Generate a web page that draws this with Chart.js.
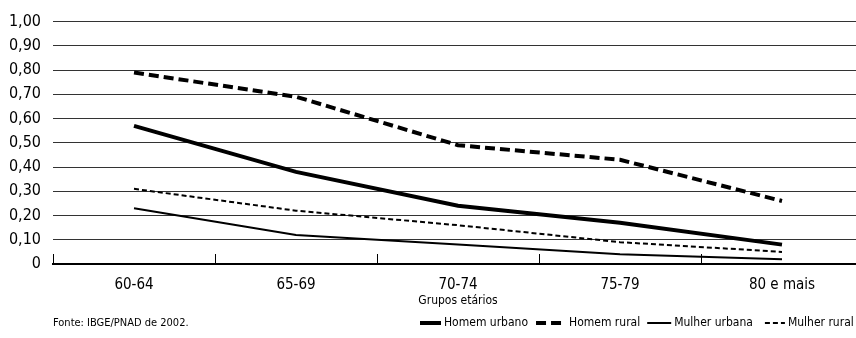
<!DOCTYPE html>
<html>
<head>
<meta charset="utf-8">
<script src="https://cdn.jsdelivr.net/npm/chart.js@4"></script>
<style>
    html, body { margin: 0; padding: 0; overflow: hidden; background: #fff; }
    #wrap { width: 866px; height: 338px; position: relative; }
</style>
</head>
<body>
<div id="wrap"><canvas id="chart"></canvas></div>
<script>
// Data
const ageGroups = ['60-64', '65-69', '70-74', '75-79', '80 e mais'];
const homemUrbano = [0.57, 0.38, 0.24, 0.17, 0.08];
const homemRural = [0.79, 0.69, 0.49, 0.43, 0.26];
const mulherUrbana = [0.23, 0.12, 0.08, 0.04, 0.02];
const mulherRural = [0.31, 0.22, 0.16, 0.09, 0.05];

const fontFamily = '"Liberation Sans Narrow", "DejaVu Sans Condensed", sans-serif';

// legend swatch lengths and the space left before each swatch
const swatchLength = [21, 30, 24, 20];
const swatchGapBefore = [0, 8, 7, 12];

// small ticks pointing up from the x axis at category boundaries
const boundaryTicks = {
    id: 'boundaryTicks',
    afterDraw(chart) {
        const x = chart.scales.x;
        const ctx = chart.ctx;
        const half = (x.getPixelForValue(1) - x.getPixelForValue(0)) / 2;
        const bottom = chart.chartArea.bottom;
        ctx.save();
        ctx.strokeStyle = '#000';
        ctx.lineWidth = 1;
        for (let i = 0; i <= ageGroups.length; i++) {
            const px = Math.round(x.getPixelForValue(i) - half) + 0.5;
            ctx.beginPath();
            ctx.moveTo(px, bottom - 10);
            ctx.lineTo(px, bottom);
            ctx.stroke();
        }
        ctx.restore();
    }
};

// source note and legend along the bottom line
const footer = {
    id: 'footer',
    afterDraw(chart) {
        const ctx = chart.ctx;
        const y = 323;
        ctx.save();
        ctx.fillStyle = '#000';
        ctx.textBaseline = 'middle';
        ctx.font = '11px ' + fontFamily;
        ctx.fillText('Fonte: IBGE/PNAD de 2002.', 53, y);

        let lx = 420;
        chart.data.datasets.forEach((ds, i) => {
            lx += swatchGapBefore[i];
            ctx.strokeStyle = '#000';
            ctx.lineWidth = ds.borderWidth;
            ctx.setLineDash(ds.borderDash || []);
            ctx.beginPath();
            ctx.moveTo(lx, y);
            ctx.lineTo(lx + swatchLength[i], y);
            ctx.stroke();
            ctx.setLineDash([]);
            lx += swatchLength[i] + 3;
            ctx.font = '12px ' + fontFamily;
            ctx.fillText(ds.label, lx, y);
            lx += ctx.measureText(ds.label).width;
        });
        ctx.restore();
    }
};

const ctx = document.getElementById('chart').getContext('2d');
const chart = new Chart(ctx, {
    type: 'line',
    data: {
        labels: ageGroups,
        datasets: [
            { label: 'Homem urbano', data: homemUrbano, borderColor: '#000', borderWidth: 4 },
            { label: 'Homem rural', data: homemRural, borderColor: '#000', borderWidth: 4, borderDash: [10, 5] },
            { label: 'Mulher urbana', data: mulherUrbana, borderColor: '#000', borderWidth: 2 },
            { label: 'Mulher rural', data: mulherRural, borderColor: '#000', borderWidth: 2, borderDash: [5, 3] }
        ]
    },
    options: {
        responsive: true,
        maintainAspectRatio: false,
        animation: false,
        elements: {
            point: { radius: 0 },
            line: { tension: 0, fill: false, borderCapStyle: 'butt' }
        },
        layout: {
            padding: { top: 10, right: 3, bottom: 30, left: 0 }
        },
        scales: {
            y: {
                min: 0,
                max: 1,
                afterFit(scale) { scale.width = 53; },
                ticks: {
                    stepSize: 0.1,
                    padding: 12,
                    color: '#000',
                    font: { family: fontFamily, size: 16 },
                    callback: v => v === 0 ? '0' : v.toFixed(2).replace('.', ',')
                },
                grid: {
                    color: '#333',
                    lineWidth: 1,
                    drawTicks: false
                },
                border: { display: false }
            },
            x: {
                offset: true,
                afterFit(scale) { scale.height = 44; },
                grid: { display: false },
                border: { display: true, color: '#000', width: 2 },
                ticks: {
                    padding: 4,
                    color: '#000',
                    font: { family: fontFamily, size: 15 }
                },
                title: {
                    display: true,
                    text: 'Grupos etários',
                    color: '#000',
                    font: { family: fontFamily, size: 12 },
                    padding: { top: 4, bottom: 0 }
                }
            }
        },
        plugins: {
            legend: { display: false },
            tooltip: { enabled: false }
        }
    },
    plugins: [boundaryTicks, footer]
});
</script>
</body>
</html>
